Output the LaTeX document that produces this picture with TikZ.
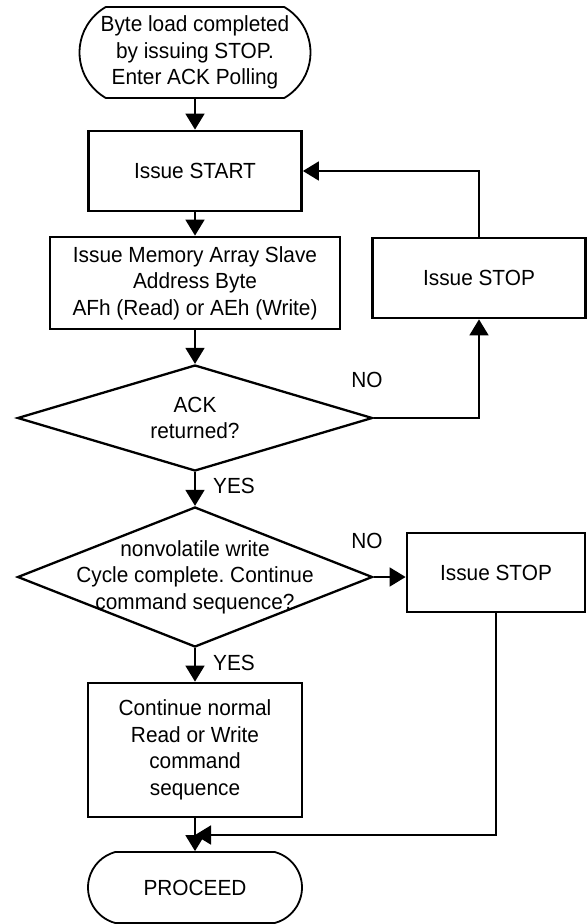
\documentclass[tikz,border=0pt]{standalone}
\usepackage{fontspec}
\setmainfont{Liberation Sans}[FakeStretch=0.95]
\usetikzlibrary{arrows.meta,positioning,shapes.geometric,shapes.misc}
\frenchspacing

\begin{document}
\begin{tikzpicture}[x=1bp,y=-1bp,
font=\fontsize{22}{26.6}\selectfont,
term/.style={rounded rectangle,rounded rectangle arc length=150,draw,line width=1.8bp,inner sep=0pt},
proc/.style={draw,line width=2.8bp,inner sep=0pt,align=center},
dec/.style={diamond,draw,line width=2.3bp,inner sep=0pt,minimum width=355bp},
txt/.style={align=center},
arr/.style={-{Triangle[length=16bp,width=19bp]},line width=1.8bp}
]
\useasboundingbox (0,0) rectangle (587,924);
% main column
\node[term,rounded rectangle arc length=120,minimum width=231bp,minimum height=91bp,
  label={[txt]center:Byte load completed\\by issuing STOP.\\Enter ACK Polling}] (begin) at (195,52.5) {};
\node[proc,minimum width=213bp,minimum height=80bp] (start) at (195,171) {Issue START};
\node[proc,minimum width=290bp,minimum height=92bp] (mem) at (195,283)
  {Issue Memory Array Slave\\Address Byte\\AFh (Read) or AEh (Write)};
\node[dec,minimum height=106bp,label={[txt]center:ACK\\returned?}] (ack) at (195,418) {};
\node[dec,minimum height=140bp,
  label={[txt]center:nonvolatile write\\Cycle complete. Continue\\command sequence?}] (nv) at (195,577) {};
\node[proc,minimum width=214bp,minimum height=134bp] (cont) at (195,750)
  {Continue normal\\Read or Write\\command\\sequence};
\node[term,minimum width=214bp,minimum height=71bp,label={center:PROCEED}] (proceed) at (195,887.5) {};

% side boxes
\node[proc,minimum width=213bp,minimum height=80bp] (stop1) at (479,278) {Issue STOP};
\node[proc,minimum width=178bp,minimum height=79bp] (stop2) at (496,572.5) {Issue STOP};

% branch labels
\node (no1) at (367,380) {NO};
\node (no2) at (367,541) {NO};
\node (yes1) at (234,486) {YES};
\node (yes2) at (234,663) {YES};

\coordinate (join) at (195,835);

\draw[arr] (begin) -- (start);
\draw[arr] (start) -- (mem);
\draw[arr] (mem) -- (ack);
\draw[arr] (ack) -- (nv);
\draw[arr] (nv) -- (cont);
\draw[arr] (cont) -- (proceed);
\draw[arr] (ack.east) -| (stop1.south);
\draw[arr] (stop1.north) |- (start.east);
\draw[arr] (nv.east) -- (nv.east -| stop2.west);
\draw[arr] (stop2.south) |- (join);
\end{tikzpicture}
\end{document}
